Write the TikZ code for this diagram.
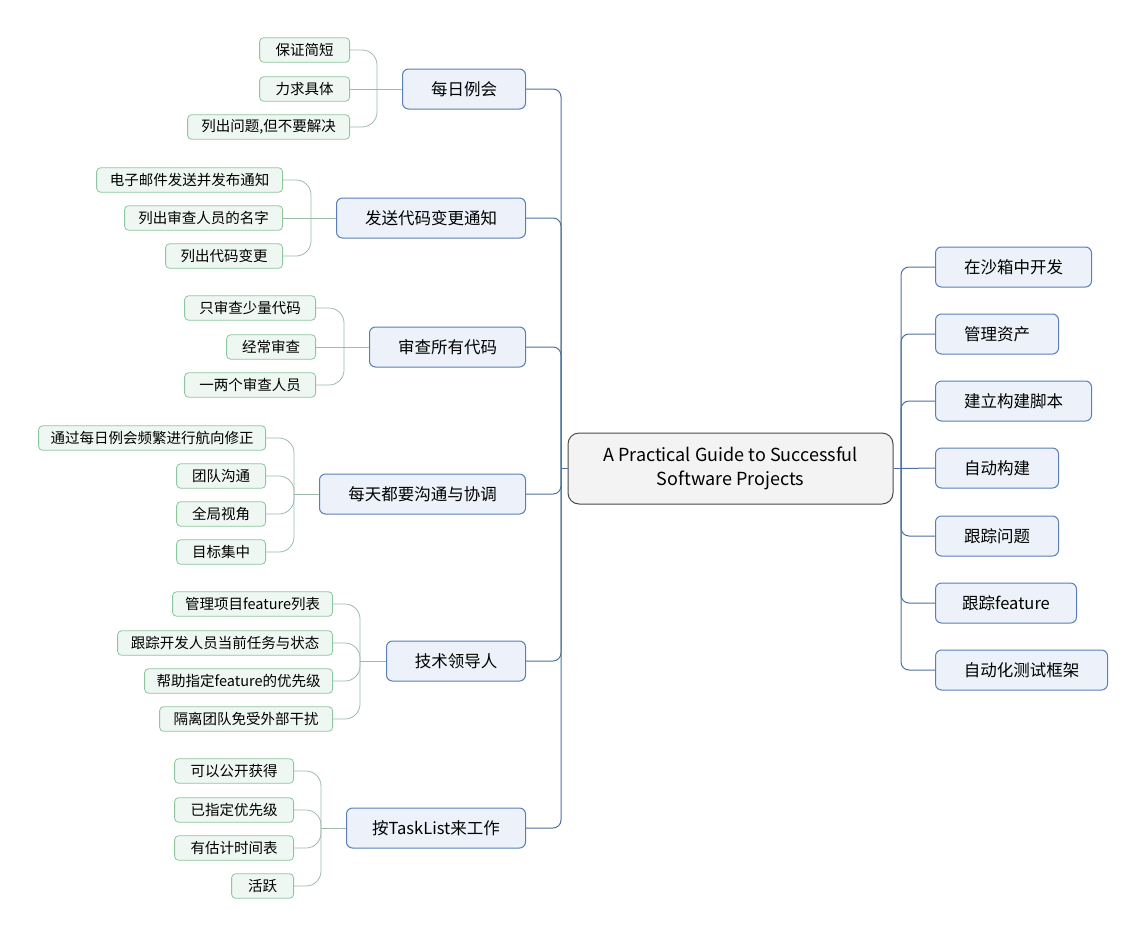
\documentclass[tikz,border=0pt]{standalone}
\usepackage{fontspec}
\setmainfont{Noto Sans CJK SC}
\usetikzlibrary{positioning}
\definecolor{rootgray}{HTML}{4A4A4A}
\definecolor{rootfill}{HTML}{F3F3F3}
\definecolor{topicblue}{HTML}{5B7EB6}
\definecolor{topicfill}{HTML}{EDF2FA}
\definecolor{subgreen}{HTML}{8DC79F}
\definecolor{subfill}{HTML}{EEF7F1}
\definecolor{linkblue}{HTML}{4D709F}
\definecolor{linkgreen}{HTML}{9DBBA9}

\begin{document}
\begin{tikzpicture}[x=1pt, y=-1pt,
  root/.style={draw=rootgray, fill=rootfill, rounded corners=11pt, line width=1pt, align=center, minimum width=325pt, minimum height=71pt, font=\fontsize{18}{24}\selectfont},
  topic/.style={draw=topicblue, fill=topicfill, rounded corners=6pt, line width=1pt, minimum height=40pt, inner xsep=0pt, font=\fontsize{16.5}{20}\selectfont},
  lefttopic/.style={topic, anchor=east},
  righttopic/.style={topic, anchor=west},
  sub/.style={draw=subgreen, fill=subfill, rounded corners=4pt, line width=0.8pt, minimum height=24.5pt, inner xsep=0pt, anchor=east, font=\fontsize{14.5}{17}\selectfont},
  link/.style={draw=linkblue, line width=1pt, rounded corners=8pt},
  twig/.style={draw=linkgreen, line width=0.8pt, rounded corners=15pt}]
\useasboundingbox (0,0) rectangle (1146,938);

\node[root] (root) at (730.5,468.5) {A Practical Guide to Successful\\Software Projects};

\node[lefttopic, minimum width=123pt] (daily) at (526,89) {每日例会};
\node[lefttopic, minimum width=189pt] (notice) at (526,218) {发送代码变更通知};
\node[lefttopic, minimum width=156pt] (review) at (526,347) {审查所有代码};
\node[lefttopic, minimum width=206pt] (talk) at (526,494) {每天都要沟通与协调};
\node[lefttopic, minimum width=139pt] (lead) at (526,661) {技术领导人};
\node[lefttopic, minimum width=179pt] (tasks) at (526,828) {按TaskList来工作};

\node[righttopic, minimum width=156pt] (sandbox) at (935,267) {在沙箱中开发};
\node[righttopic, minimum width=123pt] (assets) at (935,334) {管理资产};
\node[righttopic, minimum width=156pt] (script) at (935,401) {建立构建脚本};
\node[righttopic, minimum width=123pt] (autobuild) at (935,468) {自动构建};
\node[righttopic, minimum width=123pt] (issues) at (935,536) {跟踪问题};
\node[righttopic, minimum width=141pt] (features) at (935,603) {跟踪feature};
\node[righttopic, minimum width=172pt] (testing) at (935,670) {自动化测试框架};

\node[sub, minimum width=90pt] (daily1) at (350,50) {保证简短};
\node[sub, minimum width=90pt] (daily2) at (350,89) {力求具体};
\node[sub, minimum width=162pt] (daily3) at (350,127) {列出问题,但不要解决};

\node[sub, minimum width=186pt] (notice1) at (283,180) {电子邮件发送并发布通知};
\node[sub, minimum width=158pt] (notice2) at (283,218) {列出审查人员的名字};
\node[sub, minimum width=117pt] (notice3) at (283,256) {列出代码变更};

\node[sub, minimum width=131pt] (review1) at (316,308) {只审查少量代码};
\node[sub, minimum width=89pt] (review2) at (316,347) {经常审查};
\node[sub, minimum width=131pt] (review3) at (316,385) {一两个审查人员};

\node[sub, minimum width=227pt] (talk1) at (266,438) {通过每日例会频繁进行航向修正};
\node[sub, minimum width=89pt] (talk2) at (266,476) {团队沟通};
\node[sub, minimum width=89pt] (talk3) at (266,514) {全局视角};
\node[sub, minimum width=89pt] (talk4) at (266,552) {目标集中};

\node[sub, minimum width=160pt] (lead1) at (333,604) {管理项目feature列表};
\node[sub, minimum width=215pt] (lead2) at (333,643) {跟踪开发人员当前任务与状态};
\node[sub, minimum width=188pt] (lead3) at (333,681) {帮助指定feature的优先级};
\node[sub, minimum width=173pt] (lead4) at (333,719) {隔离团队免受外部干扰};

\node[sub, minimum width=119pt] (tasks1) at (294,771) {可以公开获得};
\node[sub, minimum width=119pt] (tasks2) at (294,810) {已指定优先级};
\node[sub, minimum width=119pt] (tasks3) at (294,848) {有估计时间表};
\node[sub, minimum width=62pt] (tasks4) at (294,886) {活跃};

\coordinate (lhub) at (561,468.5);
\coordinate (rhub) at (901,468.5);
\coordinate (dailyhub) at (377,89);
\coordinate (noticehub) at (311,218);
\coordinate (reviewhub) at (344,347);
\coordinate (talkhub) at (294,494);
\coordinate (leadhub) at (360,661);
\coordinate (taskshub) at (321,828);

\draw[link] (lhub) -- (root.west);
\foreach \t in {daily,notice,review,talk,lead,tasks}
  \draw[link] (\t.east) -| (lhub);
\draw[link] (root.east) -- (rhub);
\foreach \t in {sandbox,assets,script,issues,features,testing}
  \draw[link] (rhub) |- (\t.west);
\draw[link] (rhub) -- (autobuild.west);

\draw[twig] (daily.west) -- (dailyhub);
\draw[twig] (daily1.east) -| (dailyhub);
\draw[twig] (daily2.east) -- (dailyhub);
\draw[twig] (daily3.east) -| (dailyhub);

\draw[twig] (notice.west) -- (noticehub);
\draw[twig] (notice1.east) -| (noticehub);
\draw[twig] (notice2.east) -- (noticehub);
\draw[twig] (notice3.east) -| (noticehub);

\draw[twig] (review.west) -- (reviewhub);
\draw[twig] (review1.east) -| (reviewhub);
\draw[twig] (review2.east) -- (reviewhub);
\draw[twig] (review3.east) -| (reviewhub);

\draw[twig] (talk.west) -- (talkhub);
\foreach \s in {1,2,3,4}
  \draw[twig] (talk\s.east) -| (talkhub);

\draw[twig] (lead.west) -- (leadhub);
\foreach \s in {1,2,3,4}
  \draw[twig] (lead\s.east) -| (leadhub);

\draw[twig] (tasks.west) -- (taskshub);
\foreach \s in {1,2,3,4}
  \draw[twig] (tasks\s.east) -| (taskshub);
\end{tikzpicture}
\end{document}
